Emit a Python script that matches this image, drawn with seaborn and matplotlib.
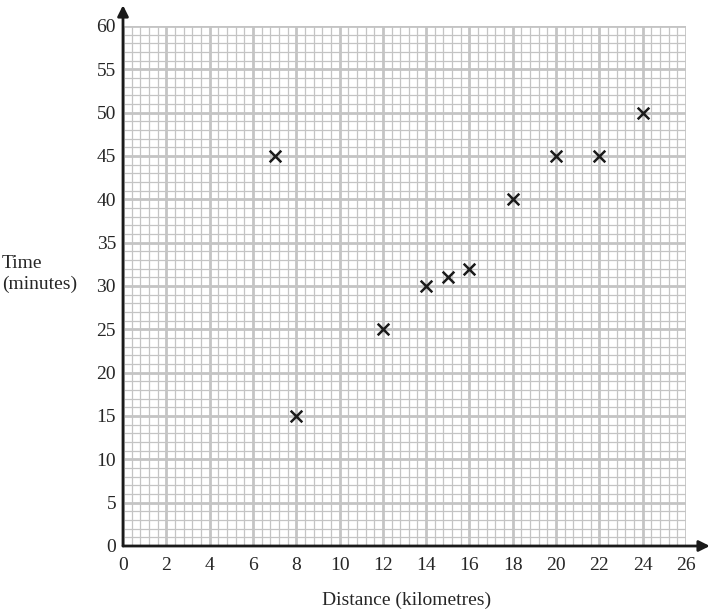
import matplotlib
matplotlib.use("Agg")
import matplotlib.pyplot as plt
import seaborn as sns
import numpy as np
import pandas as pd

distance = [7, 8, 12, 14, 15, 16, 18, 20, 22, 24]
time_min = [45, 15, 25, 30, 31, 32, 40, 45, 45, 50]
x_ticks = list(range(0, 27, 2))
y_ticks = list(range(0, 61, 5))

sns.set_style("white")
plt.rcParams['font.family'] = ['Liberation Serif', 'DejaVu Serif']

fig = plt.figure(figsize=(7.11, 6.10), dpi=100)
ax = fig.add_axes([123/711, 1-546/610, (686-123)/711, (546-26)/610])

df = pd.DataFrame({"Distance": distance, "Time": time_min})

# grid
for v in np.arange(0, 26.01, 0.4):
    major = abs(v/2 - round(v/2)) < 1e-6
    ax.axvline(v, color="#c4c4c4", lw=2.0 if major else 0.9, zorder=0)
for v in np.arange(0, 60.01, 1):
    major = int(round(v)) % 5 == 0
    ax.axhline(v, color="#c4c4c4", lw=2.0 if major else 0.9, zorder=0)

sns.scatterplot(data=df, x="Distance", y="Time", marker="x", color="#1a1a1a",
                s=70, linewidth=1.8, ax=ax, zorder=5)

ax.set_xlim(0, 26)
ax.set_ylim(0, 60)
for sp in ax.spines.values():
    sp.set_visible(False)
ax.set_xticks(x_ticks)
ax.set_yticks(y_ticks)
ax.set_xticklabels([str(t) for t in x_ticks], fontsize=14)
ax.set_yticklabels([str(t) for t in y_ticks], fontsize=14)
ax.tick_params(axis="x", length=0, pad=8)
ax.tick_params(axis="y", length=0, pad=5)
ax.set_xlabel("")
ax.set_ylabel("")

# axes with arrows
ax.annotate("", xy=(27.1, 0), xytext=(0, 0), xycoords="data",
            arrowprops=dict(arrowstyle="-|>", color="#1a1a1a", lw=2, mutation_scale=16,
                            shrinkA=0, shrinkB=0), annotation_clip=False, zorder=10)
ax.annotate("", xy=(0, 62.4), xytext=(0, 0), xycoords="data",
            arrowprops=dict(arrowstyle="-|>", color="#1a1a1a", lw=2, mutation_scale=16,
                            shrinkA=0, shrinkB=0), annotation_clip=False, zorder=10)

fig.text(2/711, 1-274/610, "Time\n(minutes)", fontsize=14, ha="left", va="center",
         linespacing=1.25)
fig.text(407/711, 1-600/610, "Distance (kilometres)", fontsize=14, ha="center", va="center")

fig.savefig("out.png", dpi=100)
